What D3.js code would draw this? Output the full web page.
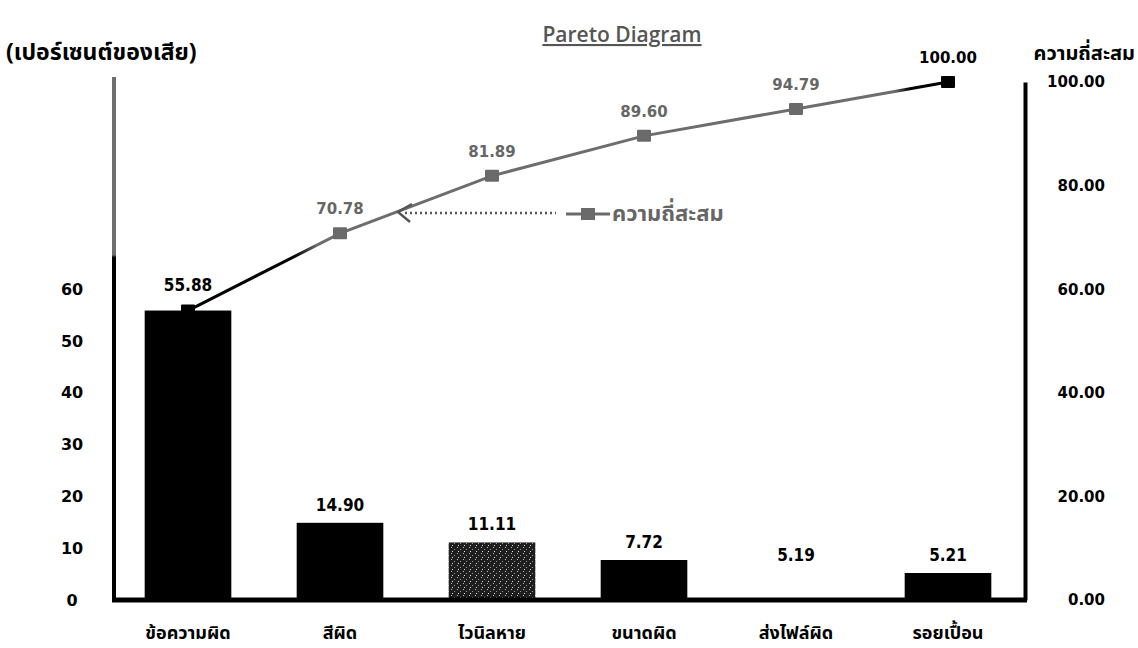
<!DOCTYPE html>
<html>
<head>
<meta charset="utf-8">
<script src="https://cdn.jsdelivr.net/npm/d3@7"></script>
<style>
  html, body { margin: 0; padding: 0; background: #fff; }
  svg { display: block; }
</style>
</head>
<body>
<svg id="chart" width="1138" height="648"></svg>
<script>
// ---- data ----
const categories = ["ข้อความผิด", "สีผิด", "ไวนิลหาย", "ขนาดผิด", "ส่งไฟล์ผิด", "รอยเปื้อน"];
const percentValues = [55.88, 14.90, 11.11, 7.72, 5.19, 5.21];
const cumulativeValues = [55.88, 70.78, 81.89, 89.60, 94.79, 100.00];
const leftTicks = [0, 10, 20, 30, 40, 50, 60];
const rightTicks = [0, 20, 40, 60, 80, 100];
const titleText = "Pareto Diagram";
const leftAxisTitle = "(เปอร์เซนต์ของเสีย)";
const rightAxisTitle = "ความถี่สะสม";
const legendLabel = "ความถี่สะสม";

// ---- fonts ----
const THAI = "Noto Sans Thai, Tahoma, DejaVu Sans, sans-serif";
const NUM = "DejaVu Sans, sans-serif";
const NUMC = "DejaVu Sans Condensed, DejaVu Sans, sans-serif";

// ---- layout ----
const svg = d3.select("#chart");
const xLeft = 112, xRight = 1024, yBottom = 600, yTop = 82;

const x = d3.scaleBand().domain(categories).range([xLeft, xRight])
  .paddingInner(0.43).paddingOuter(0.215);
const y = d3.scaleLinear().domain([0, 100]).range([yBottom, yTop]);

const defs = svg.append("defs");
// left axis scan tone: grey upper part, black lower part
const gAx = defs.append("linearGradient").attr("id", "leftAxisGrad")
  .attr("gradientUnits", "userSpaceOnUse")
  .attr("x1", 0).attr("x2", 0).attr("y1", 77).attr("y2", yBottom);
gAx.append("stop").attr("offset", 0).attr("stop-color", "#6f6f6f");
gAx.append("stop").attr("offset", 0.34).attr("stop-color", "#6f6f6f");
gAx.append("stop").attr("offset", 0.345).attr("stop-color", "#000");
gAx.append("stop").attr("offset", 1).attr("stop-color", "#000");

// line tone: black at ends, grey in middle
const x0 = x(categories[0]) + x.bandwidth() / 2;
const x5 = x(categories[categories.length - 1]) + x.bandwidth() / 2;
const gLn = defs.append("linearGradient").attr("id", "lineGrad")
  .attr("gradientUnits", "userSpaceOnUse")
  .attr("x1", x0).attr("x2", x5).attr("y1", 0).attr("y2", 0);
[[0, "#000"], [0.14, "#000"], [0.17, "#6d6d6d"], [0.93, "#6d6d6d"], [0.95, "#000"], [1, "#000"]]
  .forEach(([o, c]) => gLn.append("stop").attr("offset", o).attr("stop-color", c));

// speckled pattern for the third bar
const pat = defs.append("pattern").attr("id", "speckle")
  .attr("patternUnits", "userSpaceOnUse").attr("width", 6).attr("height", 6);
pat.append("rect").attr("width", 6).attr("height", 6).attr("fill", "#1e1e1e");
pat.append("rect").attr("x", 1).attr("y", 1).attr("width", 1).attr("height", 1).attr("fill", "#bbb");
pat.append("rect").attr("x", 4).attr("y", 3).attr("width", 1).attr("height", 1).attr("fill", "#999");
pat.append("rect").attr("x", 2).attr("y", 5).attr("width", 1).attr("height", 1).attr("fill", "#ddd");

// ---- bars ----
const barFill = (d, i) => i === 2 ? "url(#speckle)" : (i === 4 ? "#fff" : "#000");
svg.append("g").selectAll("rect").data(percentValues).join("rect")
  .attr("x", (d, i) => x(categories[i]))
  .attr("y", d => y(d))
  .attr("width", x.bandwidth())
  .attr("height", d => yBottom - y(d))
  .attr("fill", barFill);

// bar value labels
svg.append("g").selectAll("text").data(percentValues).join("text")
  .attr("x", (d, i) => x(categories[i]) + x.bandwidth() / 2)
  .attr("y", (d, i) => y(d) - (i === 0 ? 20 : 12))
  .attr("text-anchor", "middle")
  .attr("font-family", NUMC)
  .attr("font-weight", "bold")
  .attr("font-size", 17)
  .attr("fill", "#000")
  .text(d => d.toFixed(2));

// ---- axes ----
const leftAxis = svg.append("g").attr("transform", `translate(${xLeft + 2},0)`)
  .call(d3.axisLeft(y).tickValues(leftTicks).tickSize(0).tickFormat(d3.format("d")));
leftAxis.select(".domain").attr("stroke", "url(#leftAxisGrad)").attr("stroke-width", 4)
  .attr("d", `M0,77V${yBottom}`);
leftAxis.selectAll("text")
  .attr("x", -42).attr("text-anchor", "middle")
  .attr("font-family", NUM).attr("font-weight", "bold")
  .attr("font-size", 16).attr("fill", "#000");

const rightAxis = svg.append("g").attr("transform", `translate(${xRight + 1},0)`)
  .call(d3.axisRight(y).tickValues(rightTicks).tickSize(0).tickFormat(d3.format(".2f")));
rightAxis.select(".domain").attr("stroke", "#000").attr("stroke-width", 4);
rightAxis.selectAll("text")
  .attr("x", 80).attr("text-anchor", "end")
  .attr("font-family", NUM).attr("font-weight", "bold")
  .attr("font-size", 15).attr("fill", "#000");

const bottomAxis = svg.append("g").attr("transform", `translate(0,${yBottom})`)
  .call(d3.axisBottom(x).tickSize(0).tickPadding(0));
bottomAxis.select(".domain").attr("stroke", "#000").attr("stroke-width", 5)
  .attr("d", `M${xLeft},0H${xRight + 3}`);
bottomAxis.selectAll("text")
  .attr("y", 39).attr("dy", 0)
  .attr("font-family", THAI)
  .attr("font-weight", "bold").attr("font-size", 18).attr("fill", "#000");

// ---- cumulative line ----
const cx = (d, i) => x(categories[i]) + x.bandwidth() / 2;
svg.append("path").datum(cumulativeValues)
  .attr("d", d3.line().x(cx).y(d => y(d)))
  .attr("fill", "none").attr("stroke", "url(#lineGrad)").attr("stroke-width", 3);

const lastIdx = cumulativeValues.length - 1;
const isEnd = i => i === 0 || i === lastIdx;
svg.append("g").selectAll("rect").data(cumulativeValues).join("rect")
  .attr("x", (d, i) => cx(d, i) - 7)
  .attr("y", d => y(d) - 6)
  .attr("width", 14).attr("height", 12).attr("rx", 1)
  .attr("fill", (d, i) => isEnd(i) ? "#000" : "#6a6a6a");

// cumulative labels (first one coincides with the first bar label)
svg.append("g").selectAll("text").data(cumulativeValues).join("text")
  .filter((d, i) => i > 0)
  .attr("x", (d, i) => cx(d, i + 1))
  .attr("y", d => y(d) - 19)
  .attr("text-anchor", "middle")
  .attr("font-family", NUM)
  .attr("font-weight", "bold")
  .attr("font-size", 15)
  .attr("fill", (d, i) => (i + 1) === lastIdx ? "#000" : "#666")
  .text(d => d.toFixed(2));

// ---- annotation / legend ----
const ann = svg.append("g");
ann.append("path").attr("d", "M412,204 L398,212 L410,222")
  .attr("fill", "none").attr("stroke", "#555").attr("stroke-width", 2.5);
ann.append("line").attr("x1", 405).attr("x2", 556).attr("y1", 213).attr("y2", 213)
  .attr("stroke", "#555").attr("stroke-width", 2.5).attr("stroke-dasharray", "2,3");
ann.append("line").attr("x1", 566).attr("x2", 610).attr("y1", 214).attr("y2", 214)
  .attr("stroke", "#6a6a6a").attr("stroke-width", 3);
ann.append("rect").attr("x", 581).attr("y", 208).attr("width", 14).attr("height", 12)
  .attr("fill", "#6a6a6a");
ann.append("text").attr("x", 612).attr("y", 221)
  .attr("font-family", THAI)
  .attr("font-size", 22).attr("font-weight", "bold").attr("fill", "#666")
  .text(legendLabel);

// ---- titles ----
svg.append("text").attr("x", 622).attr("y", 42).attr("text-anchor", "middle")
  .attr("font-family", "Open Sans, DejaVu Sans, sans-serif")
  .attr("font-size", 21).attr("font-weight", 600).attr("fill", "#555")
  .attr("text-decoration", "underline")
  .text(titleText);

svg.append("text").attr("x", 6).attr("y", 60)
  .attr("font-family", THAI)
  .attr("font-size", 23).attr("font-weight", "bold").attr("fill", "#000")
  .text(leftAxisTitle);

svg.append("text").attr("x", 1135).attr("y", 60).attr("text-anchor", "end")
  .attr("font-family", THAI)
  .attr("font-size", 20).attr("font-weight", "bold").attr("fill", "#000")
  .text(rightAxisTitle);
</script>
</body>
</html>
